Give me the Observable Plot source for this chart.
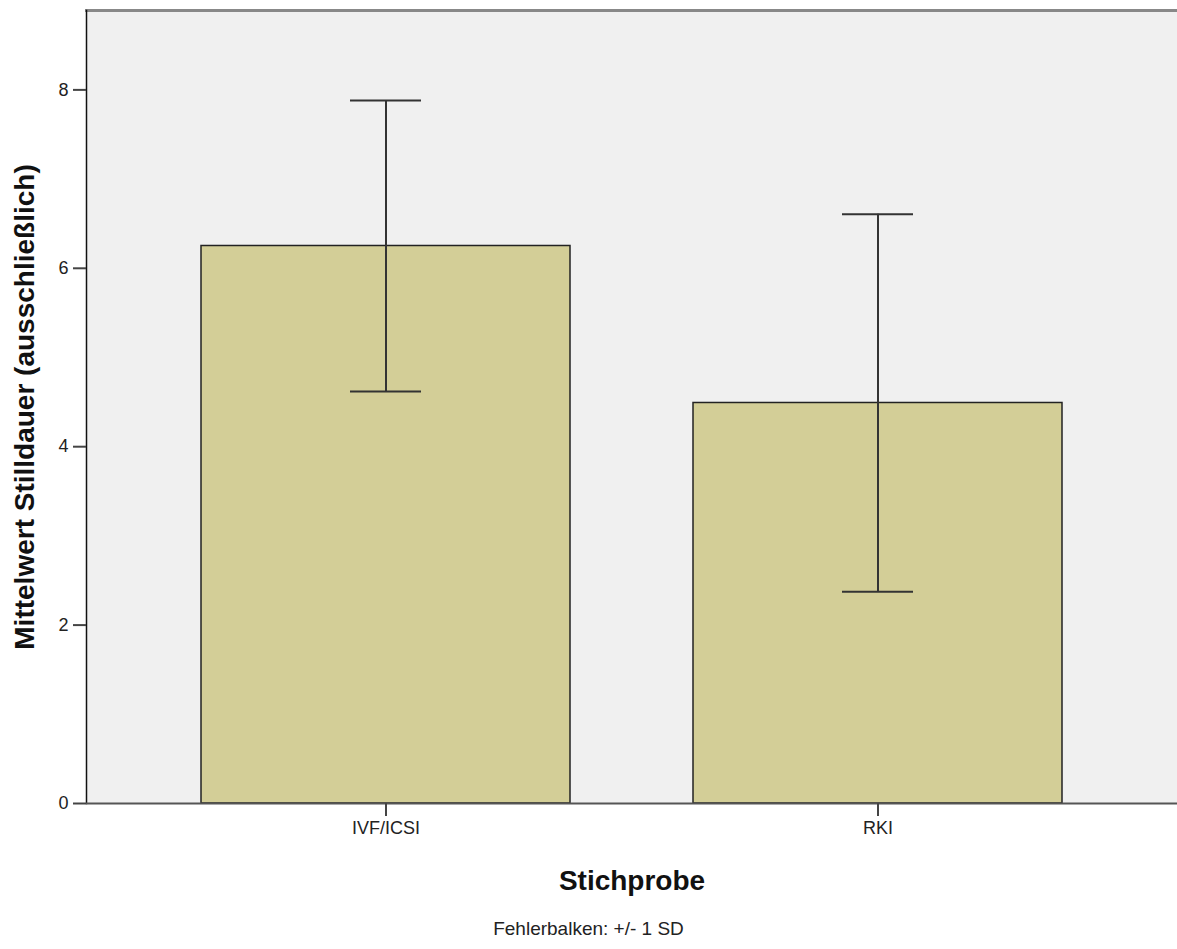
<!DOCTYPE html>
<html>
<head>
<meta charset="utf-8">
<script src="https://cdn.jsdelivr.net/npm/d3@7"></script>
<script src="https://cdn.jsdelivr.net/npm/@observablehq/plot@0.6"></script>
<style>
  html, body { margin: 0; padding: 0; background: #fff; }
  #chart { width: 1177px; }
  #caption { width: 1177px; text-align: center; font: 19px "Liberation Sans", Arial, sans-serif; color: #222; line-height: 24px; margin-top: 17px; }
</style>
</head>
<body>
<div id="chart"></div>
<div id="caption">Fehlerbalken: +/- 1 SD</div>
<script>
const groups = ["IVF/ICSI", "RKI"];
const means = [6.25, 4.49];
const sds = [1.63, 2.115];
const yTicks = [0, 2, 4, 6, 8];

const data = groups.map((g, i) => ({group: g, mean: means[i], lo: means[i] - sds[i], hi: means[i] + sds[i]}));

const chart = Plot.plot({
  width: 1177,
  height: 900,
  marginLeft: 86,
  marginRight: 0,
  marginTop: 10,
  marginBottom: 97,
  style: {fontFamily: "'Liberation Sans', Arial, sans-serif", background: "#fff"},
  x: {domain: groups, paddingInner: 0.249, paddingOuter: 0.232, axis: null},
  y: {domain: [0, 8.89], axis: null},
  marks: [
    Plot.frame({fill: "#f0f0f0", stroke: null}),
    Plot.frame({anchor: "top", stroke: "#888", strokeWidth: 3}),
    Plot.barY(data, {x: "group", y: "mean", fill: "#d3ce97", stroke: "#222", strokeWidth: 1.5}),
    Plot.ruleX(data, {x: "group", y1: "lo", y2: "hi", stroke: "#333", strokeWidth: 2}),
    Plot.tickY(data, {x: "group", y: "hi", stroke: "#333", strokeWidth: 2, insetLeft: 149, insetRight: 149}),
    Plot.tickY(data, {x: "group", y: "lo", stroke: "#333", strokeWidth: 2, insetLeft: 149, insetRight: 149}),
    Plot.frame({anchor: "left", stroke: "#111", strokeWidth: 1.5}),
    Plot.ruleY([0], {stroke: "#555", strokeWidth: 2}),
    Plot.axisY({ticks: yTicks, tickSize: 13, tickPadding: 5, fontSize: 18, stroke: "#444", strokeWidth: 2, fill: "#222",
      label: "Mittelwert Stilldauer (ausschließlich)", labelAnchor: "center", labelArrow: "none", labelOffset: 72}),
    Plot.axisX({tickSize: 13, tickPadding: 5, fontSize: 18, stroke: "#444", strokeWidth: 2, fill: "#222",
      label: "Stichprobe", labelAnchor: "center", labelArrow: "none", labelOffset: 86})
  ]
});
// bold axis labels
chart.querySelectorAll("g[aria-label='y-axis label'] text, g[aria-label='x-axis label'] text").forEach(t => {
  t.setAttribute("font-weight", "bold");
  t.setAttribute("font-size", "28");
  t.setAttribute("fill", "#111");
});
document.getElementById("chart").appendChild(chart);
</script>
</body>
</html>
